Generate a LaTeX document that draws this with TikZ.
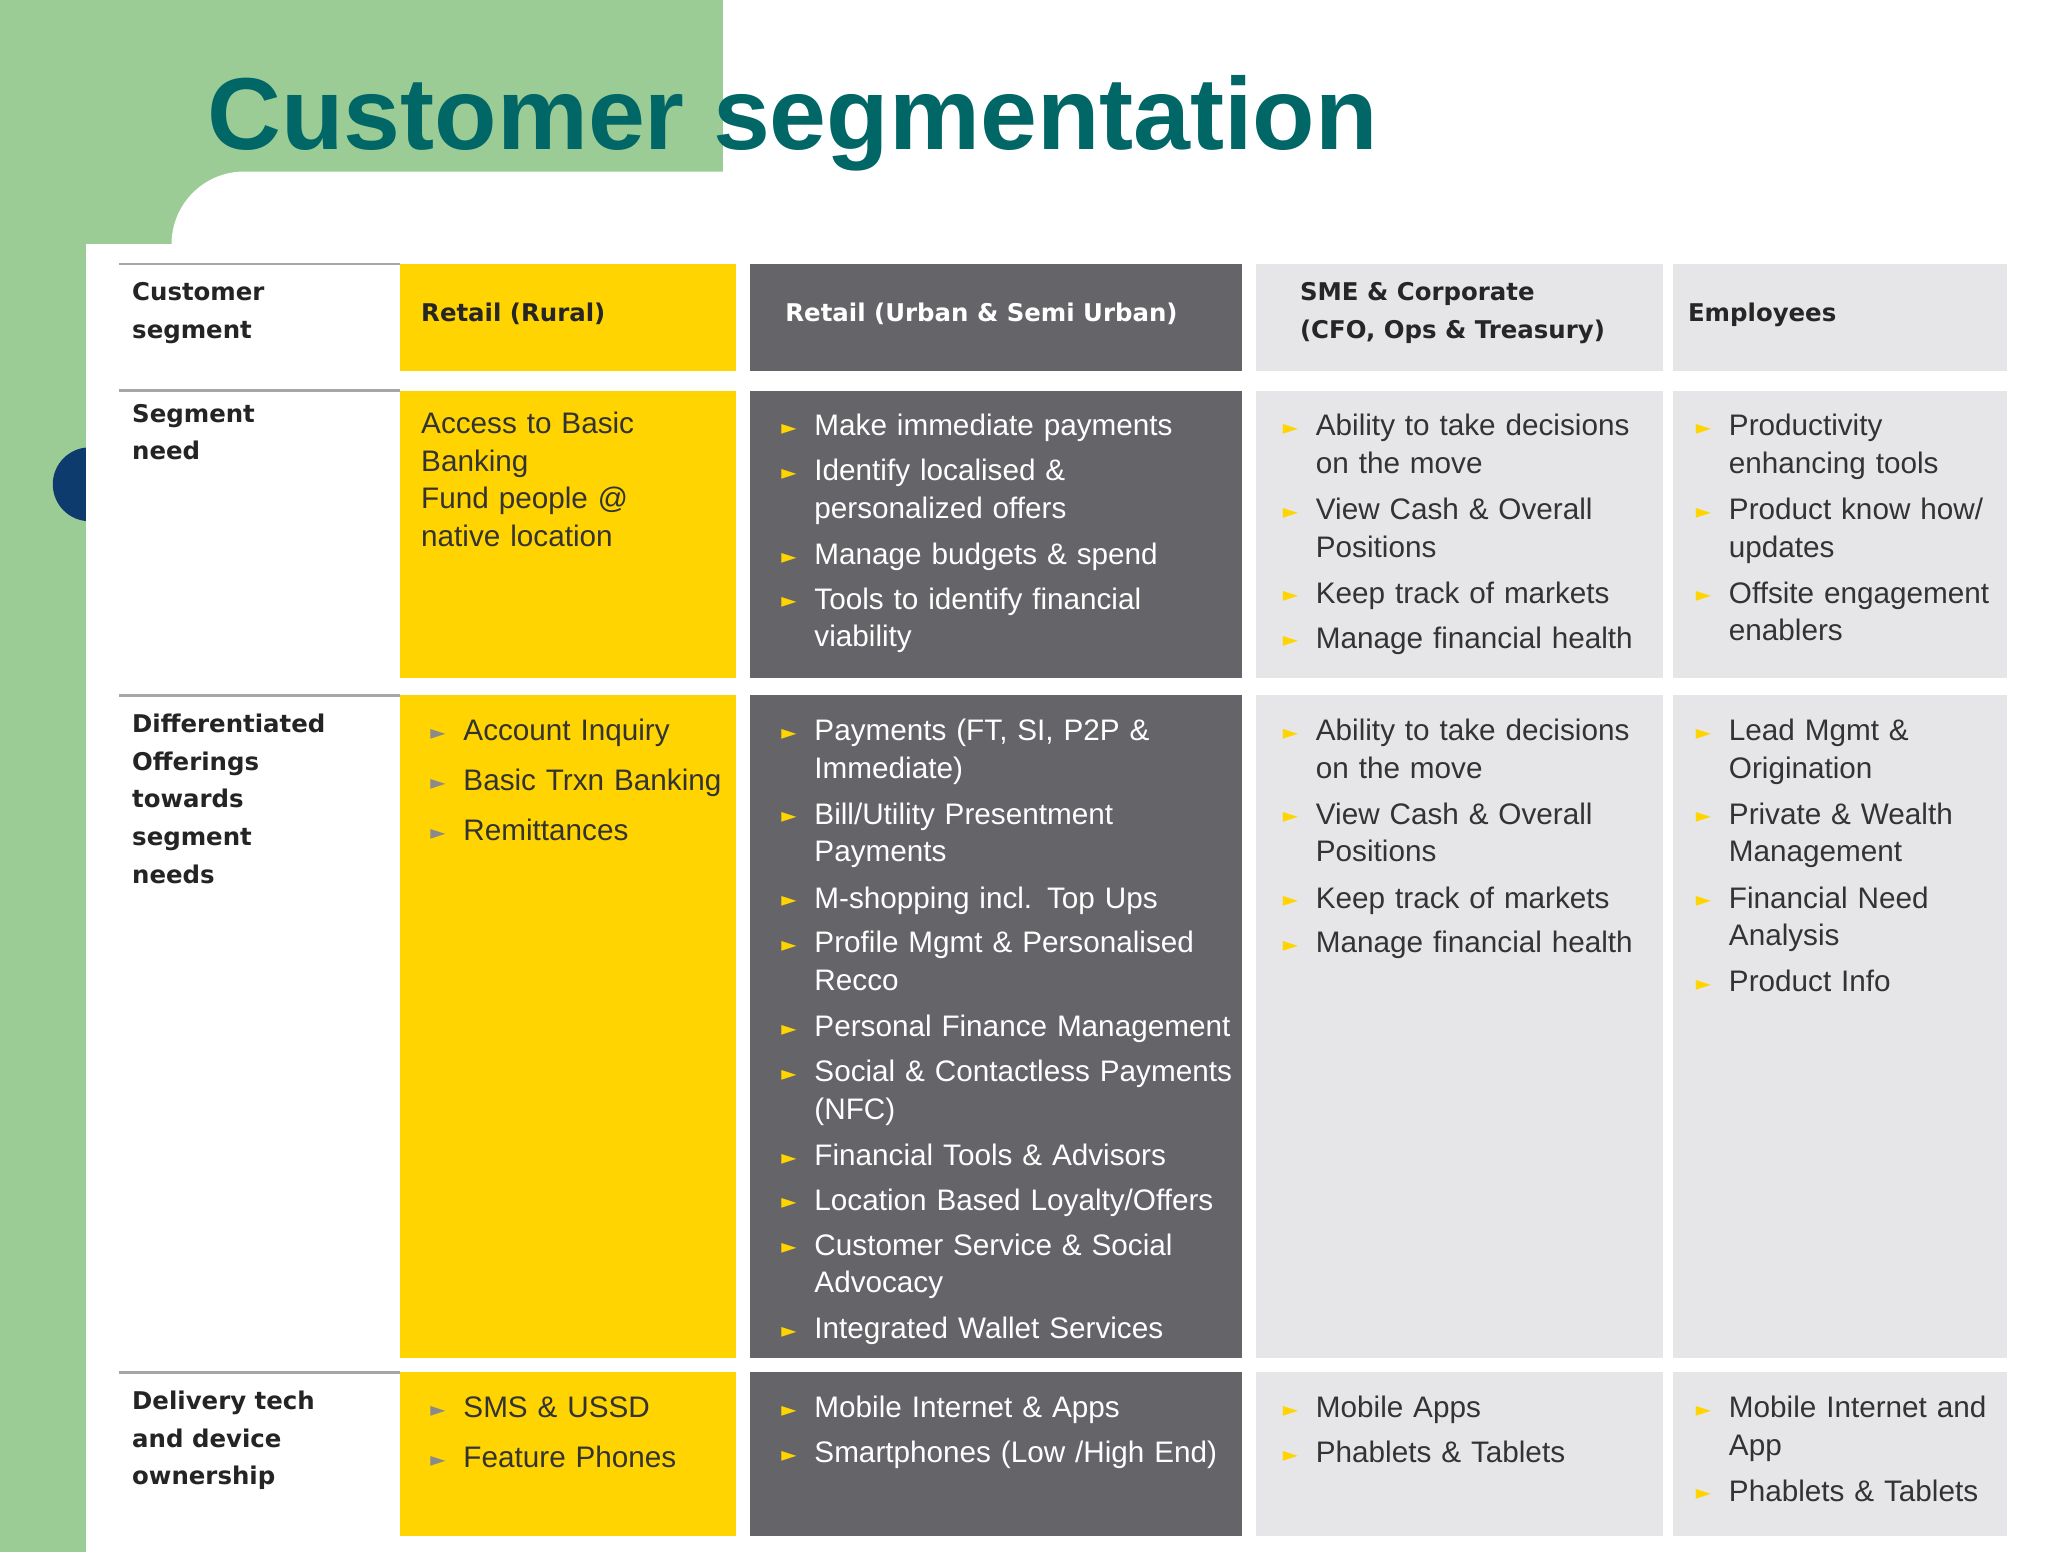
\documentclass[tikz,border=0pt]{standalone}
\usepackage{fontspec}
\setmainfont{Liberation Sans}
\newfontfamily\labfont{DejaVu Sans}
\newfontfamily\symfont{DejaVu Sans}
\definecolor{eyyel}{HTML}{FFD400}
\definecolor{eydark}{HTML}{646469}
\definecolor{eylight}{HTML}{E6E6E8}
\definecolor{bggreen}{HTML}{9CCC96}
\definecolor{navy}{HTML}{0E3B6E}
\definecolor{teal}{HTML}{006666}
\definecolor{txt}{HTML}{333333}
\definecolor{bgray}{HTML}{8A8A8A}
\newlength\bind \setlength\bind{25pt}
\newcommand\bcol{eyyel}
\newcommand{\bi}[1]{\noindent\makebox[\bind][l]{\raisebox{1pt}{\textcolor{\bcol}{\symfont\fontsize{15}{15}\selectfont ►}}}\begin{tabular}[t]{@{}l@{}}#1\end{tabular}\par}
\tikzset{
  body/.style={anchor=north west, inner sep=0pt, align=left, text width=#1,
     font=\fontsize{22.5}{28.5}\selectfont\setlength\parskip{5.5pt}},
  lab/.style={anchor=north west, inner sep=0pt, align=left, text=txt!70!black,
     font=\labfont\bfseries\fontsize{18.5}{28.5}\selectfont},
  sep/.style={draw=gray!70, line width=2pt}
}
\begin{document}
\begin{tikzpicture}[x=1pt,y=-1pt]
\useasboundingbox (0,0) rectangle (1552,1176);
% background
\fill[white] (0,0) rectangle (1552,1176);
\fill[bggreen] (0,0) rectangle (548,130);
\fill[bggreen] (0,0) rectangle (65,1176);
\fill[bggreen] (0,0) rectangle (185,185);
\fill[navy] (68,367) circle (28);
\fill[white,rounded corners=55pt] (130,130) rectangle (1600,1240);
\fill[white] (65,185) rectangle (1552,1176);
\node[anchor=base west, inner sep=0pt, text=teal, font=\bfseries\fontsize{77.5}{80}\selectfont] (title) at (157,113) {Customer segmentation};
% cells
\foreach \ya/\yb in {200/281,296/514,527/1029,1040/1164}{
  \fill[eyyel] (303,\ya) rectangle (558,\yb);
  \fill[eydark] (568,\ya) rectangle (941,\yb);
  \fill[eylight] (952,\ya) rectangle (1260,\yb);
  \fill[eylight] (1268,\ya) rectangle (1521,\yb);
  \draw[sep] (90,\ya) -- (303,\ya);
}
% labels
\node[lab] (l1) at (100,214) {Customer\\segment};
\node[lab] (l2) at (100,306) {Segment\\need};
\node[lab] (l3) at (100,541) {Differentiated\\Offerings\\towards\\segment\\needs};
\node[lab] (l4) at (100,1054) {Delivery tech\\and device\\ownership};
% headers
\node[lab,text=black!85] (h1) at (319,229) {Retail (Rural)};
\node[lab,text=white] (h2) at (595,229) {Retail (Urban \& Semi Urban)};
\node[lab,text=black!85] (h3) at (985,214) {SME \& Corporate\\(CFO, Ops \& Treasury)};
\node[lab,text=black!85] (h4) at (1279,229) {Employees};
% row 2
\node[body=240pt,text=txt] (r2a) at (319,312) {Access to Basic\\Banking\\Fund people @\\native location};
\node[body=350pt,text=white] (r2b) at (592,310) {\bi{Make immediate payments}\bi{Identify localised \&\\personalized offers}\bi{Manage budgets \& spend}\bi{Tools to identify financial\\viability}};
\node[body=290pt,text=txt] (r2c) at (972,310) {\bi{Ability to take decisions\\on the move}\bi{View Cash \& Overall\\Positions}\bi{Keep track of markets}\bi{Manage financial health}};
\node[body=250pt,text=txt] (r2d) at (1285,310) {\bi{Productivity\\enhancing tools}\bi{Product know how/\\updates}\bi{Offsite engagement\\enablers}};
% row 3
\node[body=240pt,text=txt] (r3a) at (326,541) {\renewcommand\bcol{bgray}\setlength\parskip{9.5pt}\bi{Account Inquiry}\bi{Basic Trxn Banking}\bi{Remittances}};
\node[body=350pt,text=white] (r3b) at (592,541) {\bi{Payments (FT, SI, P2P \&\\Immediate)}\bi{Bill/Utility Presentment\\Payments}\bi{M-shopping incl. Top Ups}\bi{Profile Mgmt \& Personalised\\Recco}\bi{Personal Finance Management}\bi{Social \& Contactless Payments\\(NFC)}\bi{Financial Tools \& Advisors}\bi{Location Based Loyalty/Offers}\bi{Customer Service \& Social\\Advocacy}\bi{Integrated Wallet Services}};
\node[body=290pt,text=txt] (r3c) at (972,541) {\bi{Ability to take decisions\\on the move}\bi{View Cash \& Overall\\Positions}\bi{Keep track of markets}\bi{Manage financial health}};
\node[body=250pt,text=txt] (r3d) at (1285,541) {\bi{Lead Mgmt \&\\Origination}\bi{Private \& Wealth\\Management}\bi{Financial Need\\Analysis}\bi{Product Info}};
% row 4
\node[body=240pt,text=txt] (r4a) at (326,1054) {\renewcommand\bcol{bgray}\setlength\parskip{9.5pt}\bi{SMS \& USSD}\bi{Feature Phones}};
\node[body=350pt,text=white] (r4b) at (592,1054) {\bi{Mobile Internet \& Apps}\bi{Smartphones (Low /High End)}};
\node[body=290pt,text=txt] (r4c) at (972,1054) {\bi{Mobile Apps}\bi{Phablets \& Tablets}};
\node[body=250pt,text=txt] (r4d) at (1285,1054) {\bi{Mobile Internet and\\App}\bi{Phablets \& Tablets}};
\end{tikzpicture}
\end{document}
